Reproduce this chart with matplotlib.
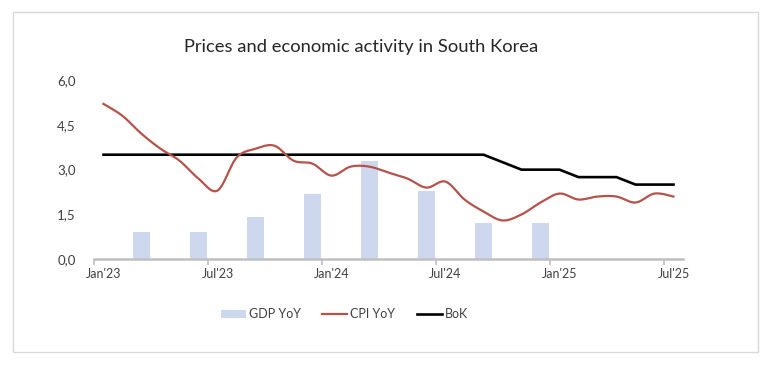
import numpy as np
import pandas as pd
import matplotlib
matplotlib.use("Agg")
import matplotlib.pyplot as plt
from matplotlib.patches import Rectangle
from matplotlib.lines import Line2D
from matplotlib.patches import Patch

plt.rcParams['font.family'] = ['Lato', 'DejaVu Sans']

# monthly categories Jan'23 .. Jul'25
months = [d.strftime("%b'%y") for d in pd.date_range("2023-01-01", "2025-07-01", freq="MS")]

cpi_yoy = [5.2, 4.8, 4.2, 3.7, 3.3, 2.7, 2.3, 3.4, 3.7, 3.8, 3.3, 3.2,
           2.8, 3.1, 3.1, 2.9, 2.7, 2.4, 2.6, 2.0, 1.6, 1.3, 1.5, 1.9,
           2.2, 2.0, 2.1, 2.1, 1.9, 2.2, 2.1]

bok_rate = [3.5] * 21 + [3.25, 3.0, 3.0, 3.0, 2.75, 2.75, 2.75, 2.5, 2.5, 2.5]

gdp_months = ["Mar'23", "Jun'23", "Sep'23", "Dec'23", "Mar'24", "Jun'24", "Sep'24", "Dec'24"]
gdp_yoy = [0.9, 0.9, 1.4, 2.2, 3.3, 2.3, 1.2, 1.2]

tick_labels = ["Jan'23", "Jul'23", "Jan'24", "Jul'24", "Jan'25", "Jul'25"]


def smooth(y, n=20):
    # Catmull-Rom style bezier smoothing, like Excel's "smoothed line"
    y = np.asarray(y, dtype=float)
    x = np.arange(len(y), dtype=float)
    pts = np.column_stack([x, y])
    out = []
    t = np.linspace(0, 1, n, endpoint=False)
    for i in range(len(pts) - 1):
        p0 = pts[max(i - 1, 0)]
        p1 = pts[i]
        p2 = pts[i + 1]
        p3 = pts[min(i + 2, len(pts) - 1)]
        c1 = p1 + (p2 - p0) / 6
        c2 = p2 - (p3 - p1) / 6
        seg = ((1 - t) ** 3)[:, None] * p1 + (3 * (1 - t) ** 2 * t)[:, None] * c1 \
            + (3 * (1 - t) * t ** 2)[:, None] * c2 + (t ** 3)[:, None] * p2
        out.append(seg)
    out.append(pts[-1:])
    out = np.vstack(out)
    return out[:, 0], out[:, 1]


fig = plt.figure(figsize=(7.75, 3.77), dpi=100)
fig.patch.set_facecolor('white')

# outer chart border
fig.patches.append(Rectangle((12.5 / 775, 1 - 351.7 / 377), 745 / 775, 339.4 / 377,
                             transform=fig.transFigure, fill=False,
                             edgecolor='#d9d9d9', linewidth=1.0))

ax = fig.add_axes([94 / 775, 117.7 / 377, 589 / 775, 179.3 / 377])

x = np.arange(len(months))
gdp_x = [months.index(m) for m in gdp_months]
ax.bar(gdp_x, gdp_yoy, width=0.92, color='#cdd8ef', zorder=1)

sx, sy = smooth(cpi_yoy)
ax.plot(sx, sy, color='#b5534b', linewidth=1.6, zorder=3)
ax.plot(x, bok_rate, color='black', linewidth=1.9, zorder=2)

ax.set_xlim(-0.5, len(months) - 0.5)
ax.set_ylim(0, 6)

for s in ['top', 'right', 'left']:
    ax.spines[s].set_visible(False)
ax.spines['bottom'].set_color('#bfbfbf')
ax.spines['bottom'].set_linewidth(1.8)

# tick marks on category boundaries, labels at category centres
ax.set_xticks([months.index(m) - 0.5 for m in tick_labels])
ax.set_xticklabels([])
ax.tick_params(axis='x', which='major', length=4, width=1.2, color='#bfbfbf', direction='out')
ax.set_xticks([months.index(m) for m in tick_labels], minor=True)
ax.set_xticklabels(tick_labels, minor=True)
ax.tick_params(axis='x', which='minor', length=0, pad=6, labelsize=9, labelcolor='#404040')

yt = [0, 1.5, 3.0, 4.5, 6.0]
ax.set_yticks(yt)
ax.set_yticklabels([f"{v:.1f}".replace('.', ',') for v in yt])
ax.tick_params(axis='y', length=0, pad=13, labelsize=9.5, labelcolor='#404040')

fig.text(361 / 775, 1 - 47.3 / 377, "Prices and economic activity in South Korea",
         ha='center', va='center', fontsize=13.2, color='#262626')

handles = [Patch(facecolor='#cdd8ef', edgecolor='none'),
           Line2D([0], [0], color='#b5534b', linewidth=1.6),
           Line2D([0], [0], color='black', linewidth=1.9)]
fig.legend(handles, ['GDP YoY', 'CPI YoY', 'BoK'], loc='center',
           bbox_to_anchor=(344.5 / 775, 1 - 314.3 / 377), ncol=3, frameon=False,
           fontsize=9, labelcolor='#404040', handlelength=2.0, handleheight=0.6,
           handletextpad=0.25, columnspacing=1.7)

fig.savefig('out.png', dpi=100, facecolor='white')
